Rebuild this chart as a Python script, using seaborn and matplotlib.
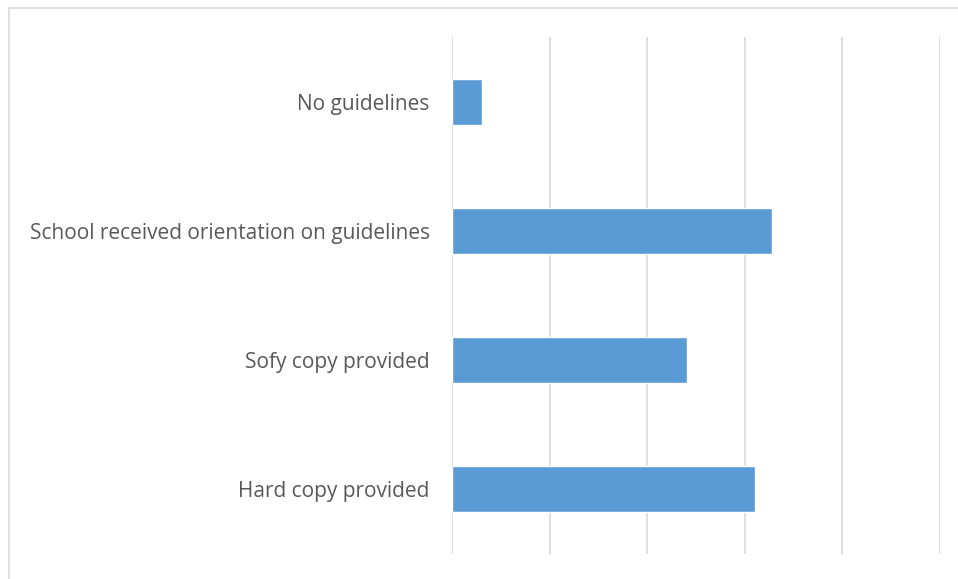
import matplotlib
matplotlib.use("Agg")
import matplotlib.pyplot as plt
from matplotlib.lines import Line2D
import seaborn as sns
import pandas as pd

categories = ["No guidelines", "School received orientation on guidelines",
              "Sofy copy provided", "Hard copy provided"]
values = [3.05, 32.75, 24.1, 31.0]

sns.set_style("white")
plt.rcParams['font.family'] = ['Open Sans', 'DejaVu Sans']

df = pd.DataFrame({"category": categories, "value": values})

W, H = 958, 579
fig = plt.figure(figsize=(W / 100, H / 100), dpi=100)
ax = fig.add_axes([452 / W, 1 - 554 / H, (940 - 452) / W, (554 - 37) / H])

sns.barplot(data=df, x="value", y="category", orient="h", color="#5B9BD5",
            saturation=1, width=0.357, ax=ax)

ax.set_xlim(0, 50)
ax.set_xticks([0, 10, 20, 30, 40, 50])
ax.xaxis.grid(True, color="#D9D9D9", linewidth=1.2)
ax.set_axisbelow(True)
ax.tick_params(axis="x", length=0, labelbottom=False)
ax.tick_params(axis="y", length=0, pad=16, labelsize=15, labelcolor="#595959")
ax.set_xlabel("")
ax.set_ylabel("")
for s in ax.spines.values():
    s.set_visible(False)

# chart frame (left and top edges visible)
fig.add_artist(Line2D([8.5 / W, 8.5 / W], [0, 1 - 8 / H], transform=fig.transFigure,
                      color="#D9D9D9", linewidth=1.2))
fig.add_artist(Line2D([8.5 / W, 1], [1 - 8 / H, 1 - 8 / H], transform=fig.transFigure,
                      color="#D9D9D9", linewidth=1.2))

fig.savefig("out.png", dpi=100, facecolor="white")
